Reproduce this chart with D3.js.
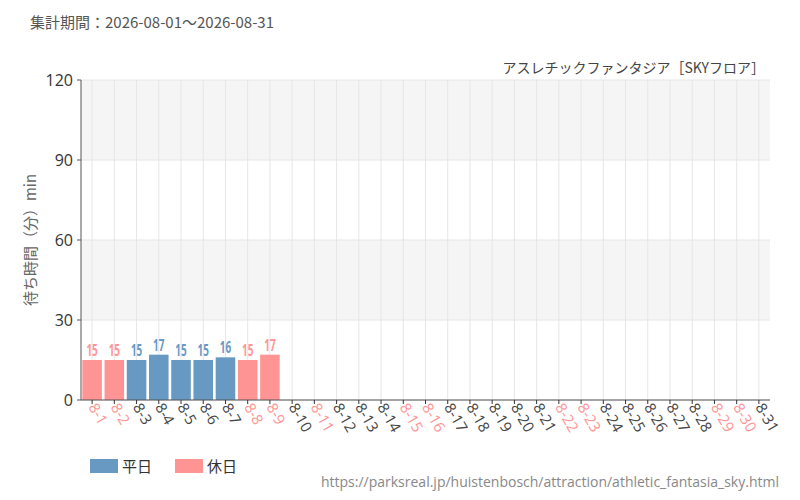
<!DOCTYPE html><html><head><meta charset="utf-8">
<script src="https://cdn.jsdelivr.net/npm/d3@7"></script>
<style>body{margin:0;background:#fff;font-family:"Noto Sans CJK JP","Noto Sans",sans-serif}</style></head><body>
<svg id="c" width="800" height="500"></svg>
<script>
const days = d3.range(1,32).map(d=>"8-"+d);
const holidays = ["8-1","8-2","8-8","8-9","8-11","8-15","8-16","8-22","8-23","8-29","8-30"];
const values = [15,15,15,17,15,15,16,15,17];
const yTicks = [0,30,60,90,120];
const svg=d3.select("#c");
const m={l:81,r:770,t:80,b:400};
const x=d3.scaleBand().domain(days).range([m.l,m.r]).paddingInner(0.12).paddingOuter(0.06);
const y=d3.scaleLinear().domain([0,120]).range([m.b,m.t]);
const blue="#6799c3", pink="#ff9494";
[[30,60],[90,120]].forEach(([a,b])=>svg.append("rect").attr("x",m.l).attr("width",m.r-m.l).attr("y",y(b)).attr("height",y(a)-y(b)).attr("fill","#f5f5f5"));
yTicks.forEach(t=>svg.append("line").attr("x1",m.l).attr("x2",m.r).attr("y1",y(t)).attr("y2",y(t)).attr("stroke","#e6e6e6"));
days.forEach(d=>svg.append("line").attr("x1",x(d)+x.bandwidth()/2).attr("x2",x(d)+x.bandwidth()/2).attr("y1",m.t).attr("y2",m.b).attr("stroke","#e6e6e6"));
const isH=d=>holidays.includes(d);
values.forEach((v,i)=>{const d=days[i];const cx=x(d)+x.bandwidth()/2, ty=y(v)-4;
 svg.append("rect").attr("x",x(d)).attr("width",x.bandwidth()).attr("y",y(v)).attr("height",y(0)-y(v)).attr("fill",isH(d)?pink:blue);
 svg.append("text").attr("text-anchor","middle").attr("font-family","'Open Sans','Noto Sans',sans-serif").attr("font-weight","bold").attr("font-size",16).attr("transform",`translate(${cx},${ty}) scale(0.62,1)`).attr("fill",isH(d)?pink:blue).text(v);
});
svg.append("line").attr("x1",m.l).attr("x2",m.l).attr("y1",m.t).attr("y2",m.b).attr("stroke","#555");
svg.append("line").attr("x1",m.l).attr("x2",m.r).attr("y1",m.b).attr("y2",m.b).attr("stroke","#555");
yTicks.forEach(t=>{svg.append("text").attr("x",m.l-8).attr("y",y(t)+6).attr("text-anchor","end").attr("font-family","'Open Sans',sans-serif").attr("font-size",16).attr("fill","#333").text(t);
 svg.append("line").attr("x1",m.l-4).attr("x2",m.l).attr("y1",y(t)).attr("y2",y(t)).attr("stroke","#555");});
days.forEach(d=>{const cx=x(d)+x.bandwidth()/2;
 svg.append("line").attr("x1",cx).attr("x2",cx).attr("y1",m.b).attr("y2",m.b+4).attr("stroke","#333");
 svg.append("text").attr("transform",`translate(${cx-4},${m.b+7}) rotate(60)`).attr("font-family","'Open Sans',sans-serif").attr("font-size",15).attr("fill",isH(d)?pink:"#444").text(d);});
svg.append("text").attr("transform",`translate(36,240) rotate(-90)`).attr("text-anchor","middle").attr("font-size",15).attr("fill","#666").text("待ち時間（分）min");
svg.append("text").attr("x",30).attr("y",28).attr("font-size",15).attr("fill","#555").text("集計期間：2026-08-01～2026-08-31");
svg.append("text").attr("x",765).attr("y",73).attr("text-anchor","end").attr("font-size",14).attr("fill","#444").text("アスレチックファンタジア［SKYフロア］");
svg.append("rect").attr("x",90).attr("y",459).attr("width",28).attr("height",14).attr("fill",blue);
svg.append("text").attr("x",122).attr("y",472).attr("font-size",15).attr("fill","#333").text("平日");
svg.append("rect").attr("x",175).attr("y",459).attr("width",28).attr("height",14).attr("fill",pink);
svg.append("text").attr("x",207).attr("y",472).attr("font-size",15).attr("fill","#333").text("休日");
svg.append("text").attr("x",779).attr("y",487).attr("text-anchor","end").attr("font-family","'Open Sans',sans-serif").attr("font-size",14).attr("fill","#888").text("https://parksreal.jp/huistenbosch/attraction/athletic_fantasia_sky.html");
</script></body></html>
